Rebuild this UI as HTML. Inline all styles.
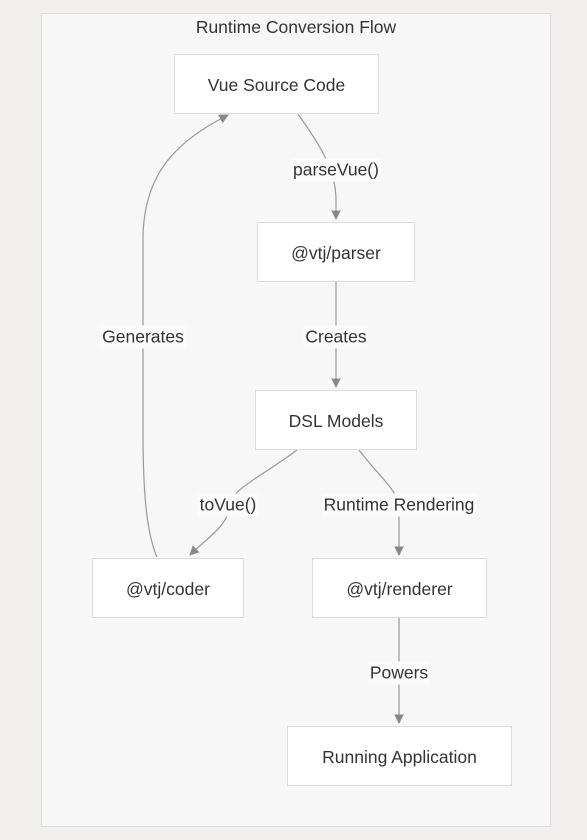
<!DOCTYPE html>
<html><head><meta charset="utf-8"><style>
html,body{margin:0;padding:0;background:#f0efee;}
body{width:587px;height:840px;position:relative;overflow:hidden;font-family:"Liberation Sans",sans-serif;color:#333;}
.c{position:absolute;left:41px;top:13px;width:508px;height:812px;background:#f7f7f7;border:1px solid #ddd;}
.n{position:absolute;background:#fff;border:1px solid #ddd;box-sizing:border-box;display:flex;align-items:center;justify-content:center;font-size:17.5px;padding-top:2px;}
.l{position:absolute;font-size:17.5px;background:#fbfbfb;transform:translate(-50%,-50%);padding:1px 2px;white-space:nowrap;margin-top:1px;}
svg{position:absolute;left:0;top:0;}
</style></head><body>
<div class="c"></div>
<div style="position:absolute;left:0;width:587px;top:17px;text-align:center;font-size:17.5px;padding-left:5px;box-sizing:border-box;">Runtime Conversion Flow</div>
<svg width="587" height="840">
<defs><marker id="a" viewBox="0 0 10 10" refX="9" refY="5" markerWidth="8" markerHeight="8" orient="auto"><path d="M0,0L10,5L0,10z" fill="#888"/></marker></defs>
<g fill="none" stroke="#999" stroke-width="1.2">
<path d="M298,114 C320,145 336,170 336,200 L336,219" marker-end="url(#a)"/>
<path d="M336,282 L336,387" marker-end="url(#a)"/>
<path d="M297,450 C260,478 228,490 228,510 C228,525 205,540 190,555" marker-end="url(#a)"/>
<path d="M359,450 C380,478 399,490 399,510 L399,555" marker-end="url(#a)"/>
<path d="M157,557 C145,530 143,480 143,430 L143,240 C143,170 180,140 228,115" marker-end="url(#a)"/>
<path d="M399,618 L399,723" marker-end="url(#a)"/>
</g></svg>
<div class="n" style="left:174px;top:54px;width:205px;height:60px;">Vue Source Code</div>
<div class="n" style="left:257px;top:222px;width:158px;height:60px;">@vtj/parser</div>
<div class="n" style="left:255px;top:390px;width:162px;height:60px;">DSL Models</div>
<div class="n" style="left:92px;top:558px;width:152px;height:60px;">@vtj/coder</div>
<div class="n" style="left:312px;top:558px;width:175px;height:60px;">@vtj/renderer</div>
<div class="n" style="left:287px;top:726px;width:225px;height:60px;">Running Application</div>
<div class="l" style="left:336px;top:169px;">parseVue()</div>
<div class="l" style="left:336px;top:336px;">Creates</div>
<div class="l" style="left:143px;top:336px;">Generates</div>
<div class="l" style="left:228px;top:504px;">toVue()</div>
<div class="l" style="left:399px;top:504px;">Runtime Rendering</div>
<div class="l" style="left:399px;top:672px;">Powers</div>
</body></html>
